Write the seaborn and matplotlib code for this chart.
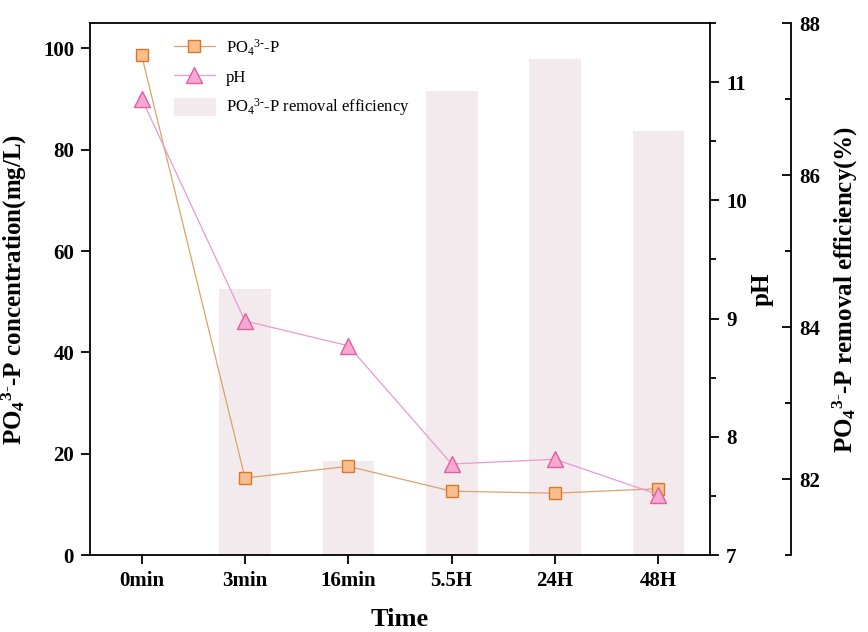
import matplotlib
matplotlib.use('Agg')
import matplotlib.pyplot as plt
import matplotlib.patches as mpatches
from matplotlib.ticker import MultipleLocator
import seaborn as sns
import numpy as np

times = ['0min', '3min', '16min', '5.5H', '24H', '48H']
po4_conc = [98.6, 15.2, 17.5, 12.6, 12.2, 13.1]
ph_values = [10.86, 8.98, 8.77, 7.77, 7.81, 7.51]
removal_eff = [np.nan, 84.5, 82.24, 87.11, 87.53, 86.58]

bar_color = '#f2eaec'
po4_line, po4_face, po4_edge = '#d9a46c', '#f8be8c', '#d8782e'
ph_line, ph_face, ph_edge = '#e99ad2', '#f7a8d2', '#e0609f'

sns.set_style('ticks')
plt.rcParams['font.family'] = ['Liberation Serif', 'DejaVu Serif']
plt.rcParams['mathtext.fontset'] = 'custom'
plt.rcParams['mathtext.rm'] = 'Liberation Serif'
plt.rcParams['mathtext.bf'] = 'Liberation Serif:bold'
plt.rcParams['mathtext.it'] = 'Liberation Serif:italic'
for k in ('text.color', 'axes.labelcolor', 'xtick.color', 'ytick.color', 'axes.edgecolor'):
    plt.rcParams[k] = 'black'

fig = plt.figure(figsize=(8.68, 6.32), dpi=100)
ax = fig.add_axes([0.1037, 0.1218, 0.7143, 0.8418])
ax3 = ax.twinx()
ax2 = ax.twinx()
ax3.set_zorder(0)
ax.set_zorder(1)
ax2.set_zorder(2)
ax.patch.set_visible(False)
ax2.patch.set_visible(False)

# removal efficiency bars (third axis, behind)
sns.barplot(x=times, y=removal_eff, order=times, ax=ax3, color=bar_color,
            width=0.5, saturation=1, edgecolor='none', linewidth=0)

# PO4 concentration
sns.lineplot(x=times, y=po4_conc, ax=ax, sort=False, color=po4_line, lw=0.9,
             marker='s', markersize=8.5, markerfacecolor=po4_face,
             markeredgecolor=po4_edge, markeredgewidth=1.0)

# pH
sns.lineplot(x=times, y=ph_values, ax=ax2, sort=False, color=ph_line, lw=0.9,
             marker='^', markersize=11, markerfacecolor=ph_face,
             markeredgecolor=ph_edge, markeredgewidth=1.0)

ax.set_xlim(-0.5, 5.5)
ax.set_ylim(0, 105)
ax2.set_ylim(7, 11.5)
ax3.set_ylim(81, 88)

ax.set_xticks(range(len(times)))
ax.set_xticklabels(times)
ax.set_yticks(range(0, 101, 20))
ax2.set_yticks(range(7, 12))
ax2.yaxis.set_minor_locator(MultipleLocator(0.5))
ax3.set_yticks([82, 84, 86, 88])
ax3.yaxis.set_minor_locator(MultipleLocator(1))

for a in (ax, ax2, ax3):
    for s in a.spines.values():
        s.set_linewidth(1.3)
        s.set_color('black')

ax.spines['right'].set_visible(False)
for side in ('left', 'top', 'bottom'):
    ax2.spines[side].set_visible(False)
    ax3.spines[side].set_visible(False)
ax3.spines['right'].set_position(('outward', 58))

tick_font = dict(labelsize=15)
ax.tick_params(axis='both', which='major', direction='out', length=6.5, width=1.3, pad=5, **tick_font)
ax2.tick_params(axis='y', which='major', direction='out', length=6.5, width=1.3, pad=5, **tick_font)
ax2.tick_params(axis='y', which='minor', direction='out', length=4, width=1.3)
ax3.tick_params(axis='y', which='major', direction='in', length=6.5, width=1.3, pad=6, **tick_font)
ax3.tick_params(axis='y', which='minor', direction='in', length=4, width=1.3)
for a in (ax, ax2, ax3):
    for lab in a.get_xticklabels() + a.get_yticklabels():
        lab.set_fontweight('bold')

ax.set_xlabel('Time', fontsize=19, fontweight='bold', labelpad=12)
ax.set_ylabel(r'PO$_\mathbf{4}$$^{\mathbf{3}\text{-}}$-P concentration(mg/L)', fontsize=18,
              fontweight='bold', labelpad=10)
ax2.set_ylabel('pH', fontsize=18, fontweight='bold', labelpad=3)
ax3.set_ylabel(r'PO$_\mathbf{4}$$^{\mathbf{3}\text{-}}$-P removal efficiency(%)', fontsize=18,
               fontweight='bold', labelpad=8)

h1 = ax.get_lines()[0]
h2 = ax2.get_lines()[0]
h3 = mpatches.Patch(color=bar_color)
ax2.legend([h1, h2, h3],
           [r'PO$_4$$^{3\text{-}}$-P', 'pH', r'PO$_4$$^{3\text{-}}$-P removal efficiency'],
           loc='upper left', bbox_to_anchor=(0.124, 0.985), borderaxespad=0,
           frameon=False, fontsize=12, handlelength=2.5, handleheight=1.2,
           handletextpad=0.65, labelspacing=0.6)

plt.savefig('out.png', dpi=100)
plt.close()
